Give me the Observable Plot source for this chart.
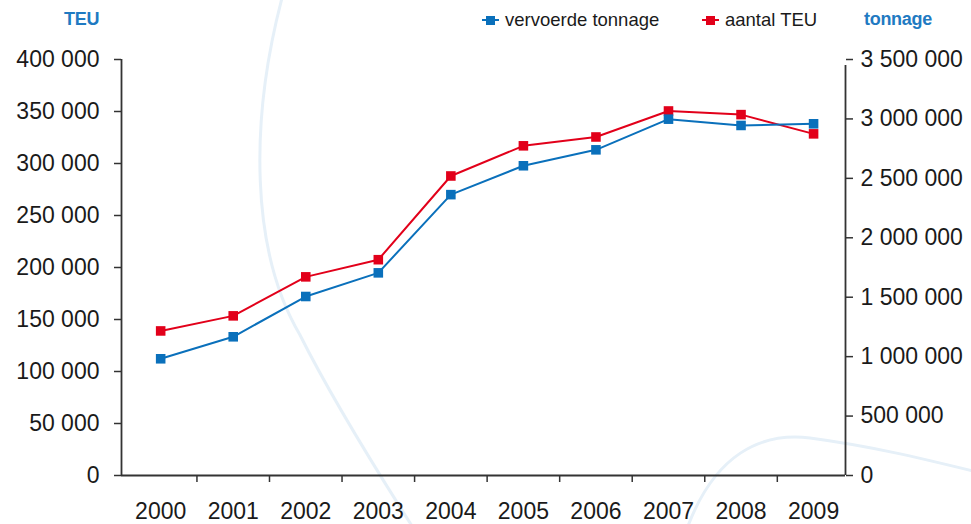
<!DOCTYPE html>
<html>
<head>
<meta charset="utf-8">
<script src="https://cdn.jsdelivr.net/npm/d3@7"></script>
<script src="https://cdn.jsdelivr.net/npm/@observablehq/plot@0.6"></script>
<style>
  html, body { margin: 0; padding: 0; background: #fff; }
  body { font-family: "Liberation Sans", Arial, Helvetica, sans-serif; }
  #wrap { position: relative; width: 971px; height: 524px; overflow: hidden; }
  #deco { position: absolute; left: 0; top: 0; width: 971px; height: 524px; z-index: 0; }
  #header { position: absolute; left: 0; top: 0; width: 971px; height: 40px; z-index: 2; }
  #chart { position: absolute; left: 0; top: 40px; z-index: 1; }
  .axis-title { position: absolute; top: 9px; font-size: 18px; font-weight: bold; color: #1f7ac2; letter-spacing: -0.3px; }
  .legend-item { position: absolute; top: 9px; font-size: 18.5px; color: #1a1a1a; display: flex; align-items: center; line-height: 22px; }
  .swatch { position: relative; width: 17px; height: 22px; margin-right: 6px; }
  .swatch .ln { position: absolute; left: 0; right: 0; top: 10px; height: 2px; }
  .swatch .sq { position: absolute; left: 4px; top: 6.5px; width: 9px; height: 9px; }
</style>
</head>
<body>
<div id="wrap">
  <svg id="deco" viewBox="0 0 971 524">
    <!-- faint decorative arcs in the page background -->
    <path d="M 282 -2 C 250 120, 250 250, 300 335 C 330 395, 370 460, 412 526" fill="none" stroke="#e6f0f8" stroke-width="3"/>
    <path d="M 688 526 C 715 455, 760 432, 810 438 C 870 446, 920 458, 973 471" fill="none" stroke="#e6f0f8" stroke-width="3"/>
  </svg>
  <div id="header"></div>
  <div id="chart"></div>
</div>
<script>
// Haven throughput per year
const years = [2000, 2001, 2002, 2003, 2004, 2005, 2006, 2007, 2008, 2009];
const teu = [139000, 153500, 191000, 207500, 288000, 317000, 325500, 350500, 347000, 328500];
const tonnage = [982000, 1167000, 1506000, 1705000, 2363000, 2606000, 2740000, 2998000, 2945000, 2959000];

// Axis ticks
const teuTicks = [0, 50000, 100000, 150000, 200000, 250000, 300000, 350000, 400000];
const tonnageTicks = [0, 500000, 1000000, 1500000, 2000000, 2500000, 3000000, 3500000];

// Series names and colours
const seriesNames = ["vervoerde tonnage", "aantal TEU"];
const seriesColors = ["#0a70bb", "#e2001a"];
const axisTitles = ["TEU", "tonnage"];

const teuMax = 400000;
const tonnageMax = 3500000;
const ratio = tonnageMax / teuMax; // tonnage units per TEU unit on the shared y scale

const fmt = d => d3.format(",")(d).replace(/,/g, " ");

const rows = years.map((year, i) => ({year, teu: teu[i], tonnage: tonnage[i], tonnageScaled: tonnage[i] / ratio}));

// Category boundaries on the x axis (ticks sit between the years)
const boundaries = years.slice(0, -1).map(y => y + 0.5);
const xDomain = [1999.46, 2009.44];

const axisColor = "#333";
const labelColor = "#1a1a1a";
const fontSize = 23;

const chart = Plot.plot({
  width: 971,
  height: 484,
  marginTop: 19,
  marginBottom: 49,
  marginLeft: 121,
  marginRight: 126,
  style: {background: "transparent", fontFamily: "'Liberation Sans', Arial, Helvetica, sans-serif", color: labelColor, overflow: "visible"},
  x: {domain: xDomain, axis: null},
  y: {domain: [0, teuMax], axis: null},
  marks: [
    // left axis (TEU)
    Plot.axisY({anchor: "left", label: null, ticks: teuTicks, tickFormat: fmt, tickSize: 7, tickPadding: 15, fontSize, stroke: axisColor, strokeWidth: 1.5, fill: labelColor}),
    Plot.ruleX([xDomain[0]], {y1: 0, y2: teuMax, stroke: axisColor, strokeWidth: 1.8}),
    // right axis (tonnage), mapped onto the shared scale
    Plot.axisY({anchor: "right", label: null, ticks: tonnageTicks.map(t => t / ratio), tickFormat: d => fmt(Math.round(d * ratio)), tickSize: 7, tickPadding: 8, fontSize, stroke: axisColor, strokeWidth: 1.5, fill: labelColor}),
    Plot.ruleX([xDomain[1]], {y1: 0, y2: teuMax, stroke: axisColor, strokeWidth: 1.8, insetBottom: -6}),
    // bottom axis line, boundary ticks and year labels
    Plot.ruleY([0], {stroke: axisColor, strokeWidth: 1.8}),
    Plot.axisX({label: null, ticks: boundaries, tickFormat: () => "", tickSize: 7, stroke: axisColor, strokeWidth: 1.5}),
    Plot.axisX({label: null, ticks: years, tickFormat: d => String(d), tickSize: 0, tickPadding: 27, fontSize, fill: labelColor}),
    // series
    Plot.line(rows, {x: "year", y: "teu", stroke: seriesColors[1], strokeWidth: 2}),
    Plot.dot(rows, {x: "year", y: "teu", symbol: "square", r: 5.4, fill: seriesColors[1], stroke: "none"}),
    Plot.line(rows, {x: "year", y: "tonnageScaled", stroke: seriesColors[0], strokeWidth: 2}),
    Plot.dot(rows, {x: "year", y: "tonnageScaled", symbol: "square", r: 5.4, fill: seriesColors[0], stroke: "none"})
  ]
});
document.getElementById("chart").appendChild(chart);

// Header: axis titles and legend
const header = document.getElementById("header");
function addTitle(text, left) {
  const el = document.createElement("div");
  el.className = "axis-title";
  el.style.left = left + "px";
  el.textContent = text;
  header.appendChild(el);
}
addTitle(axisTitles[0], 64);
addTitle(axisTitles[1], 864);

function addLegend(name, color, left) {
  const item = document.createElement("div");
  item.className = "legend-item";
  item.style.left = left + "px";
  const sw = document.createElement("div");
  sw.className = "swatch";
  const ln = document.createElement("div");
  ln.className = "ln"; ln.style.background = color;
  const sq = document.createElement("div");
  sq.className = "sq"; sq.style.background = color;
  sw.appendChild(ln); sw.appendChild(sq);
  const label = document.createElement("span");
  label.textContent = name;
  item.appendChild(sw); item.appendChild(label);
  header.appendChild(item);
}
addLegend(seriesNames[0], seriesColors[0], 482);
addLegend(seriesNames[1], seriesColors[1], 702);
</script>
</body>
</html>
